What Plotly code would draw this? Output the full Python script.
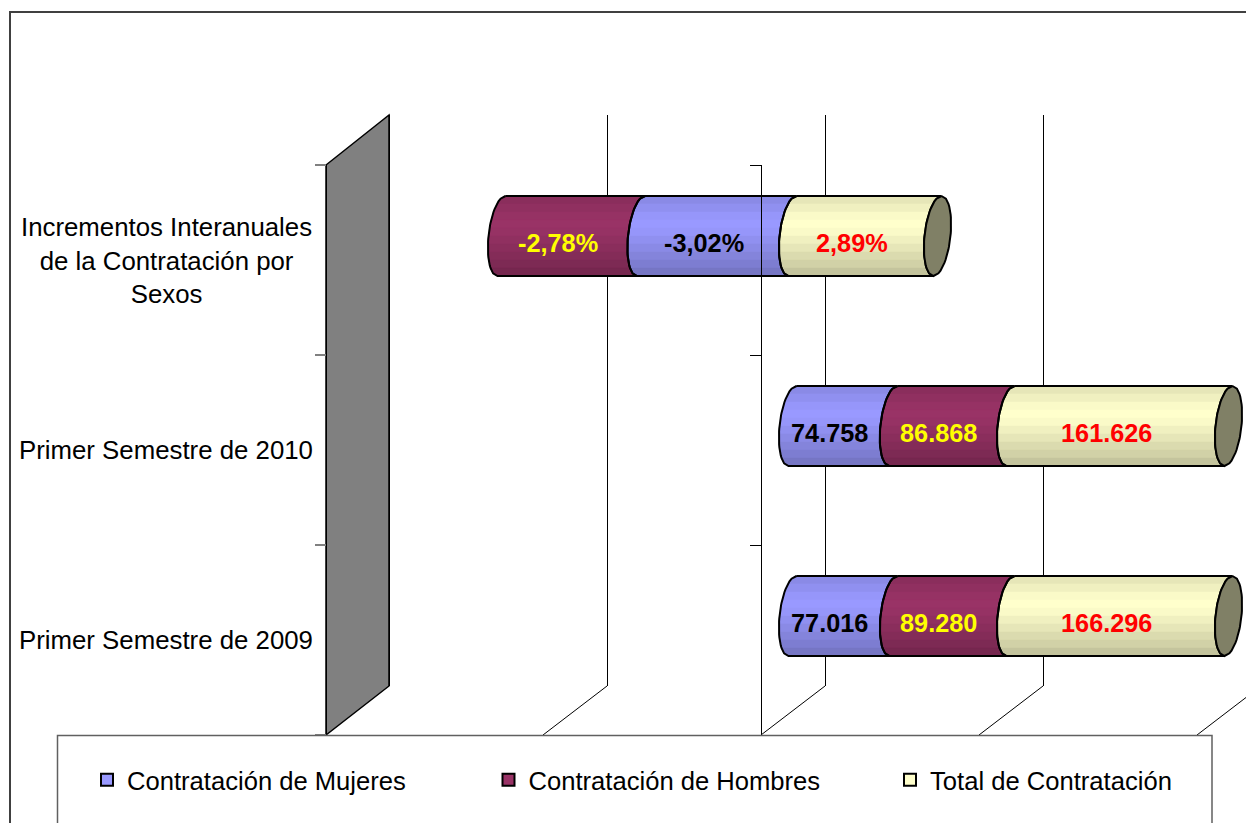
import math
import plotly.graph_objects as go

W, H = 1246, 823

# ---- data -------------------------------------------------------------
categories = ["Primer Semestre de 2009", "Primer Semestre de 2010",
              "Incrementos Interanuales de la Contratación por Sexos"]
category_labels = ["Primer Semestre de 2009", "Primer Semestre de 2010",
                   "Incrementos Interanuales<br>de la Contratación por<br>Sexos"]
mujeres = [77016, 74758, -3.02]
hombres = [89280, 86868, -2.78]
total = [166296, 161626, 2.89]
series_names = ["Contratación de Mujeres", "Contratación de Hombres", "Total de Contratación"]
series_values = [mujeres, hombres, total]
series_colors = ["#9999FF", "#993366", "#FFFFCC"]
label_colors = ["#000000", "#FFFF00", "#FF0000"]
is_percent_row = [False, False, True]
axis_ticks = [-100, -50, 0, 50, 100]

# ---- style ------------------------------------------------------------
shade_stops = [0.90, 0.94, 0.98, 1.0, 0.98, 0.94, 0.90, 0.86, 0.82, 0.77]
PX_PER_PCT = 4.36
BAR_ZERO, GRID_ZERO = 792.5, 825
BAR_TOP, BAR_BOTTOM = 141, 711
AXIS_TOP, AXIS_BOTTOM = 165, 735
BACK_TOP, BACK_BOTTOM = 115, 686
ROW_PX, BAR_HALF_PX = 190, 40
ELL_A = 13 / PX_PER_PCT
ELL_S = 4 / PX_PER_PCT
FONT = "Liberation Sans, Arial, sans-serif"


def fx(p):
    return p / W


def fy(p):
    return 1 - p / H


def shade(hex_color, f):
    r, g, b = (int(hex_color[i:i + 2], 16) for i in (1, 3, 5))
    return f"rgb({r * f:.0f},{g * f:.0f},{b * f:.0f})"


def fmt(v, pct):
    if pct:
        return f"{v:.2f}".replace(".", ",") + "%"
    return f"{v:,.0f}".replace(",", ".")


half_h = BAR_HALF_PX / ROW_PX  # half bar height in category units
row_pos = list(range(len(categories)))


def curve(x0, t0, t1, side, n=10):
    """x/t pairs along an end ellipse; side -1 = left half, +1 = right half."""
    ts = [t0 + (t1 - t0) * k / n for k in range(n + 1)]
    return [x0 + side * ELL_A * math.sqrt(max(0, 1 - t * t)) + ELL_S * t for t in ts], ts


# percent-stacked shares (each row normalised by the sum of absolute values)
rows = []
for i in row_pos:
    vals = [s[i] for s in series_values]
    tot = sum(abs(v) for v in vals)
    pos, neg = 0.0, 0.0
    segs = []
    for v in vals:
        share = 100 * v / tot
        if share >= 0:
            segs.append((pos, pos + share))
            pos += share
        else:
            segs.append((neg + share, neg))
            neg += share
    rows.append(segs)

fig = go.Figure()

# real stacked bars (percent shares) on the bar subplot: carry legend and scale
for j, name in enumerate(series_names):
    fig.add_trace(go.Bar(
        name=name, orientation="h", y=row_pos,
        x=[rows[i][j][1] - rows[i][j][0] if series_values[j][i] >= 0 else rows[i][j][0] - rows[i][j][1]
           for i in row_pos],
        width=2 * half_h * 0.7,
        marker=dict(color=series_colors[j], line=dict(color="#000000", width=2)),
        xaxis="x2", yaxis="y2", hoverinfo="skip",
    ))

# cylinder shading and outlines derived from the same shares
nb = len(shade_stops)
for j, name in enumerate(series_names):
    for b, f in enumerate(shade_stops):
        xs, ys = [], []
        t_hi = 1 - 2 * b / nb
        t_lo = 1 - 2 * (b + 1) / nb
        for i in row_pos:
            x0, x1 = rows[i][j]
            lx, lt = curve(x0, t_hi, t_lo, -1, 4)
            rx, rt = curve(x1, t_lo, t_hi, -1, 4)
            xs += lx + rx + [lx[0], None]
            ys += [i + t * half_h for t in lt + rt] + [i + t_hi * half_h, None]
        fig.add_trace(go.Scatter(
            x=xs, y=ys, mode="lines", fill="toself",
            fillcolor=shade(series_colors[j], f),
            line=dict(color=shade(series_colors[j], f), width=0.5),
            xaxis="x2", yaxis="y2", showlegend=False, hoverinfo="skip"))

for j, name in enumerate(series_names):
    xs, ys = [], []
    for i in row_pos:
        x0, x1 = rows[i][j]
        lx, lt = curve(x0, 1, -1, -1, 30)
        rx, rt = curve(x1, -1, 1, -1, 30)
        xs += lx + rx + [lx[0], None]
        ys += [i + t * half_h for t in lt + rt] + [i + half_h, None]
    fig.add_trace(go.Scatter(
        x=xs, y=ys, mode="lines", line=dict(color="#000000", width=2),
        xaxis="x2", yaxis="y2", showlegend=False, hoverinfo="skip"))

# end caps
cx, cy = [], []
for i in row_pos:
    x1 = max(seg[1] for seg in rows[i])
    lx, lt = curve(x1, 1, -1, -1, 30)
    rx, rt = curve(x1, -1, 1, 1, 30)
    cx += lx + rx + [None]
    cy += [i + t * half_h for t in lt + rt] + [None]
fig.add_trace(go.Scatter(
    x=cx, y=cy, mode="lines", fill="toself", fillcolor="#808066",
    line=dict(color="#000000", width=2),
    xaxis="x2", yaxis="y2", showlegend=False, hoverinfo="skip"))

# back-wall gridline subplot (drawn first so it sits behind the bars)
fig.add_trace(go.Scatter(x=[0], y=[0], mode="markers", marker=dict(opacity=0),
                         xaxis="x", yaxis="y", showlegend=False, hoverinfo="skip"))
# axis holders for the category tick axes
for xa, ya in (("x3", "y3"), ("x4", "y4")):
    fig.add_trace(go.Scatter(x=[0] * 3, y=categories, mode="markers", marker=dict(opacity=0),
                             xaxis=xa, yaxis=ya, showlegend=False, hoverinfo="skip"))

annotations = []
for i, lab in enumerate(category_labels):
    annotations.append(dict(
        x=fx(166), xref="paper", y=categories[i], yref="y3",
        text=lab, showarrow=False, xanchor="center", yanchor="middle", align="center",
        font=dict(family=FONT, size=25.8, color="#000000")))
for j in range(len(series_names)):
    for i in row_pos:
        x0, x1 = rows[i][j]
        annotations.append(dict(
            x=(x0 + x1) / 2, xref="x2", y=i, yref="y2",
            text=f"<b>{fmt(series_values[j][i], is_percent_row[i])}</b>",
            showarrow=False, xshift=-13, yshift=-7,
            font=dict(family=FONT, size=25.3, color=label_colors[j])))


def line_px(x0, y0, x1, y1, color="#000000", width=1, layer="below"):
    return dict(type="line", xref="paper", yref="paper", x0=fx(x0), y0=fy(y0), x1=fx(x1), y1=fy(y1),
                line=dict(color=color, width=width), layer=layer)


shapes = [
    dict(type="rect", xref="paper", yref="paper", x0=fx(10), y0=fy(12), x1=fx(1300), y1=fy(900),
         line=dict(color="#404040", width=2), fillcolor="#FFFFFF", layer="below"),
    dict(type="path", xref="paper", yref="paper",
         path=(f"M {fx(326)} {fy(165)} L {fx(389)} {fy(115)} L {fx(389)} {fy(686)} "
               f"L {fx(326)} {fy(735)} Z"),
         fillcolor="#808080", line=dict(color="#000000", width=1.5), layer="below"),
]
for back in (607, 825, 1043, 1261):
    shapes.append(line_px(back, BACK_BOTTOM, back - 64, AXIS_BOTTOM))
shapes.append(dict(type="rect", xref="paper", yref="paper", x0=fx(57.5), y0=fy(735.5),
                   x1=fx(1212), y1=fy(900), line=dict(color="#606060", width=1.5),
                   fillcolor="#FFFFFF", layer="above"))

hidden = dict(visible=False, showgrid=False, zeroline=False)
fig.update_layout(
    width=W, height=H, margin=dict(l=0, r=0, t=0, b=0, autoexpand=False),
    paper_bgcolor="#FFFFFF", plot_bgcolor="rgba(0,0,0,0)",
    barmode="relative", showlegend=True,
    font=dict(family=FONT, size=25, color="#000000"),
    xaxis=dict(domain=[0, 1], range=[-GRID_ZERO / PX_PER_PCT, (W - GRID_ZERO) / PX_PER_PCT],
               anchor="y", tickmode="array", tickvals=axis_ticks, showgrid=True,
               gridcolor="#000000", gridwidth=1,
               zeroline=False, showticklabels=False, ticks="", showline=False),
    yaxis=dict(domain=[fy(BACK_BOTTOM), fy(BACK_TOP)], range=[0, 1], anchor="x", **hidden),
    xaxis2=dict(domain=[0, 1], range=[-BAR_ZERO / PX_PER_PCT, (W - BAR_ZERO) / PX_PER_PCT],
                anchor="y2", **hidden),
    yaxis2=dict(domain=[fy(BAR_BOTTOM), fy(BAR_TOP)], type="linear",
                range=[-0.5, 2.5], anchor="x2", **hidden),
    xaxis3=dict(domain=[0, 1], range=[0, 1], anchor="y3", **hidden),
    yaxis3=dict(domain=[fy(AXIS_BOTTOM), fy(AXIS_TOP)], type="category", categoryorder="array",
                categoryarray=categories, range=[-0.5, 2.5], anchor="free", position=fx(326),
                side="left", tickson="boundaries", ticks="outside", ticklen=11, tickwidth=1.5,
                tickcolor="#808080", showline=True, linecolor="#000000", linewidth=1,
                showticklabels=False, showgrid=False, zeroline=False),
    xaxis4=dict(domain=[0, 1], range=[0, 1], anchor="y4", **hidden),
    yaxis4=dict(domain=[fy(AXIS_BOTTOM), fy(AXIS_TOP)], type="category", categoryorder="array",
                categoryarray=categories, range=[-0.5, 2.5], anchor="free", position=fx(761),
                side="left", tickson="boundaries", ticks="outside", ticklen=11, tickwidth=1,
                tickcolor="#000000", showline=True, linecolor="#000000", linewidth=1,
                showticklabels=False, showgrid=False, zeroline=False),
    legend=dict(orientation="h", x=fx(87), y=fy(780), xanchor="left", yanchor="middle",
                bgcolor="rgba(0,0,0,0)", borderwidth=0, entrywidth=356.5, entrywidthmode="pixels",
                font=dict(family=FONT, size=25.6, color="#000000"), traceorder="normal",
                itemclick=False, itemdoubleclick=False),
    annotations=annotations, shapes=shapes,
)

fig.write_html("out.html", config=dict(displayModeBar=False),
               post_script="document.body.style.margin='0';document.body.style.overflow='hidden';")
